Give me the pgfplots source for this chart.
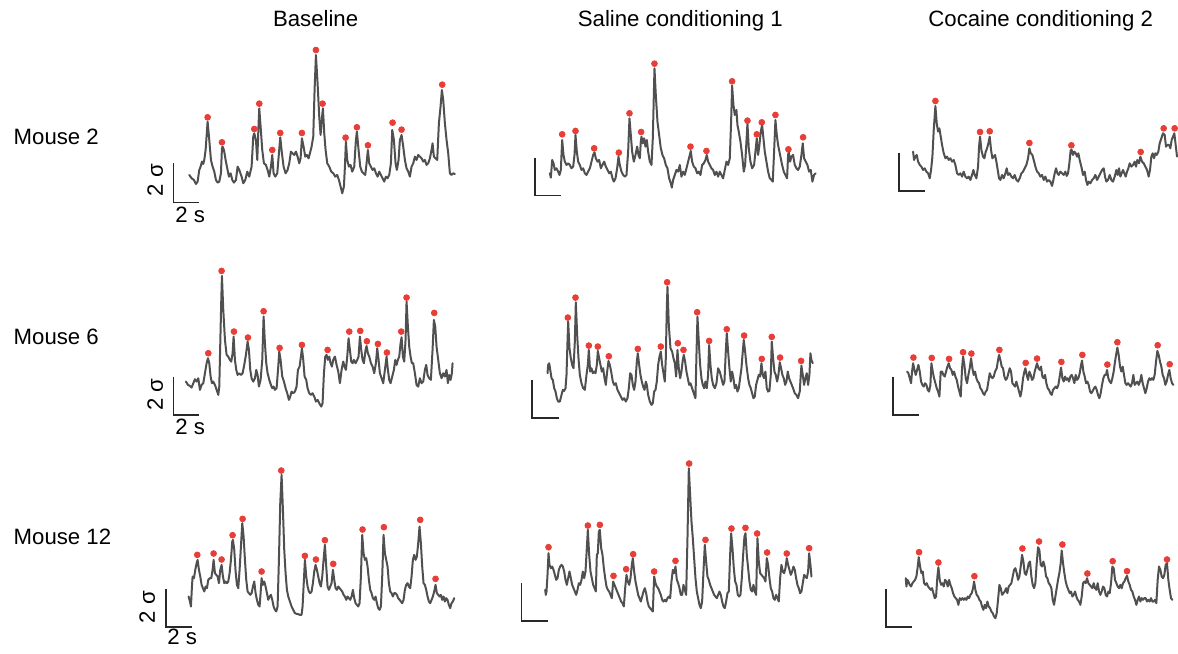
\documentclass[border=0pt]{standalone}
\usepackage{pgfplots}
\pgfplotsset{compat=1.18}
\usepackage{fontspec}
\setmainfont{Liberation Sans}
\definecolor{tracegray}{RGB}{80,80,80}
\definecolor{dotred}{RGB}{232,62,55}
\definecolor{bargray}{RGB}{40,40,40}
\pgfplotsset{
 panel/.style={scale only axis, hide axis, clip=false, y dir=reverse, xmin=0, ymin=0, anchor=north west},
 trace/.style={draw=tracegray, line width=1.0pt, line join=round, line cap=round, no markers},
 peaks/.style={only marks, mark=*, mark size=1.45pt, color=dotred, mark options={draw=none, fill=dotred}},
 sbar/.style={draw=bargray, line width=0.75pt, no markers},
}
\begin{document}
\begin{tikzpicture}
\path (0,0) rectangle (589pt,-327pt);
\fontsize{11.1}{13}\selectfont
% titles
\node[anchor=base, inner sep=0] at (157.85pt,-13.35pt) {Baseline};
\node[anchor=base, inner sep=0] at (340.25pt,-13.35pt) {Saline conditioning 1};
\node[anchor=base, inner sep=0] at (520.5pt,-13.35pt) {Cocaine conditioning 2};
\node[anchor=base west, inner sep=0] at (6.65pt,-72.5pt) {Mouse 2};
\node[anchor=base west, inner sep=0] at (6.65pt,-172.5pt) {Mouse 6};
\node[anchor=base west, inner sep=0] at (6.65pt,-272.2pt) {Mouse 12};
% scale labels
\node[anchor=base, rotate=90, inner sep=0] at (81.5pt,-90pt) {2 σ};
\node[anchor=base west, inner sep=0] at (87.5pt,-111.5pt) {2 s};
\node[anchor=base, rotate=90, inner sep=0] at (81.5pt,-197.5pt) {2 σ};
\node[anchor=base west, inner sep=0] at (87.5pt,-217.5pt) {2 s};
\node[anchor=base, rotate=90, inner sep=0] at (77.5pt,-303.75pt) {2 σ};
\node[anchor=base west, inner sep=0] at (83.5pt,-322.5pt) {2 s};

% ---------------- Row 1, Baseline ----------------
\begin{axis}[panel, at={(80pt,-20pt)}, width=152.5pt, height=92.5pt, xmax=915, ymax=555]
\addplot[trace] coordinates {
(88,405)(95,415)(102,420)(108,432)(113,425)(118,390)(122,380)(126,365)(130,372)(133,360)(137,330)(143,245)(148,300)(153,360)(158,380)(163,395)(168,420)(173,428)(178,425)(183,400)(186,325)(188,320)(192,330)(197,360)(202,385)(207,410)(212,400)(217,420)(222,428)(228,420)(233,380)(238,390)(245,410)(250,430)(256,420)(262,395)(268,410)(275,380)(280,290)(283,280)(288,300)(292,360)(296,250)(298,205)(302,260)(307,330)(312,370)(318,375)(323,390)(328,410)(333,380)(337,345)(341,400)(346,410)(352,400)(357,340)(361,292)(366,340)(371,380)(377,400)(383,390)(388,370)(393,335)(398,340)(403,345)(408,335)(413,350)(418,370)(422,355)(426,295)(431,320)(436,350)(441,345)(446,355)(450,340)(455,320)(460,290)(464,150)(468,45)(473,130)(478,230)(482,285)(486,235)(489,205)(493,280)(497,330)(502,370)(508,380)(514,395)(520,400)(526,410)(532,405)(537,420)(542,440)(547,460)(552,440)(555,380)(558,305)(562,360)(567,380)(572,375)(577,395)(583,380)(588,300)(591,275)(596,330)(601,380)(606,395)(611,400)(616,405)(620,370)(624,330)(628,370)(633,380)(638,390)(643,385)(648,400)(653,410)(658,395)(663,405)(668,415)(673,425)(678,410)(683,415)(688,405)(693,370)(697,270)(702,300)(707,370)(711,390)(716,360)(720,300)(725,285)(730,320)(735,360)(740,385)(745,395)(750,410)(755,380)(760,370)(765,350)(770,360)(775,345)(780,350)(785,355)(790,365)(795,360)(800,375)(805,370)(810,355)(815,330)(818,310)(822,350)(827,355)(832,360)(837,250)(842,200)(846,150)(850,180)(855,250)(860,300)(865,340)(870,400)(875,405)(880,400)(885,402)
};
\addplot[peaks] coordinates {(143,232)(186,307)(283,267)(298,191)(337,330)(361,279)(426,279)(468,30)(488,191)(557,293)(591,262)(624,316)(698,248)(725,269)(847,134)};
\addplot[sbar] coordinates {(40,370)(40,487)(118,487)};
\end{axis}

% ---------------- Row 1, Saline ----------------
\begin{axis}[panel, at={(262.5pt,-27.5pt)}, width=150pt, height=75pt, xmax=900, ymax=450]
\addplot[trace] coordinates {
(75,355)(78,368)(82,315)(86,325)(90,345)(95,340)(100,350)(104,360)(108,345)(112,255)(116,300)(120,320)(125,330)(130,325)(135,330)(140,340)(145,335)(149,300)(152,240)(156,290)(160,320)(165,330)(170,345)(175,340)(180,355)(185,360)(190,350)(195,340)(200,320)(205,300)(209,292)(213,310)(218,320)(223,315)(228,340)(233,330)(238,320)(243,335)(248,345)(253,355)(258,350)(263,370)(267,380)(272,370)(277,340)(281,305)(285,330)(290,350)(295,360)(300,365)(305,360)(310,290)(314,190)(318,240)(322,290)(327,320)(332,300)(337,275)(341,300)(345,310)(348,260)(350,245)(354,265)(358,250)(362,275)(366,255)(370,290)(375,320)(380,330)(384,250)(389,40)(393,120)(398,200)(403,240)(408,280)(413,300)(418,310)(423,330)(428,340)(433,370)(438,385)(441,398)(445,375)(450,360)(455,345)(460,350)(465,330)(470,365)(475,350)(480,360)(485,340)(490,320)(495,300)(498,288)(502,320)(507,335)(512,340)(517,355)(522,350)(527,360)(532,330)(537,325)(542,315)(546,300)(550,320)(555,330)(560,340)(565,345)(570,360)(575,350)(580,365)(585,350)(590,360)(595,370)(600,345)(605,320)(610,330)(615,310)(619,200)(622,92)(626,150)(630,180)(635,165)(638,210)(642,230)(647,260)(652,300)(657,350)(661,330)(665,260)(668,205)(672,280)(677,320)(682,340)(688,330)(692,290)(696,250)(700,300)(704,270)(708,230)(712,210)(716,250)(720,290)(725,320)(730,350)(735,370)(740,375)(744,380)(748,290)(752,195)(756,240)(760,270)(766,300)(772,330)(777,350)(782,360)(787,370)(790,300)(792,290)(796,320)(800,305)(805,300)(810,330)(815,340)(820,345)(825,335)(830,300)(834,265)(838,310)(843,320)(848,330)(853,350)(858,345)(863,380)(868,360)(873,355)
};
\addplot[peaks] coordinates {(112,238)(152,228)(208,280)(282,293)(314,175)(349,231)(389,26)(497,275)(545,288)(622,79)(668,197)(696,238)(711,202)(752,180)(791,283)(835,247)};
\addplot[sbar] coordinates {(30,308)(30,422)(108,422)};
\end{axis}

% ---------------- Row 1, Cocaine ----------------
\begin{axis}[panel, at={(445pt,-45pt)}, width=144pt, height=55pt, xmax=864, ymax=330]
\addplot[trace] coordinates {
(70,185)(73,210)(77,200)(81,195)(85,215)(90,225)(95,230)(100,240)(105,235)(110,245)(115,250)(120,265)(124,240)(128,200)(132,120)(137,48)(141,100)(145,125)(149,115)(153,140)(157,165)(162,190)(167,205)(172,200)(177,210)(182,205)(187,215)(192,210)(197,225)(202,250)(207,255)(212,250)(217,260)(222,245)(227,260)(232,265)(237,260)(242,270)(247,255)(251,240)(255,255)(260,265)(265,230)(268,170)(271,140)(275,180)(280,200)(284,205)(288,185)(292,175)(296,160)(300,140)(304,180)(308,205)(312,200)(316,195)(320,215)(324,240)(328,265)(332,270)(337,255)(342,265)(347,250)(351,235)(355,255)(360,250)(365,260)(370,265)(375,255)(380,270)(385,275)(390,265)(395,250)(400,245)(405,235)(410,225)(415,205)(419,175)(423,190)(428,195)(432,210)(437,230)(442,245)(447,250)(452,260)(457,255)(462,270)(467,260)(472,275)(477,270)(482,275)(487,288)(491,270)(495,250)(499,235)(503,250)(507,255)(512,245)(517,250)(522,255)(527,245)(531,258)(535,250)(539,220)(543,180)(546,180)(550,195)(554,185)(558,190)(562,200)(566,190)(570,210)(575,230)(580,255)(585,245)(589,270)(593,285)(597,275)(602,280)(607,270)(612,265)(617,255)(622,270)(627,260)(632,250)(637,240)(642,235)(646,260)(650,275)(655,270)(660,255)(665,270)(670,275)(675,260)(680,240)(684,255)(688,235)(692,260)(696,250)(700,240)(704,250)(708,260)(712,245)(716,235)(720,220)(725,230)(730,225)(735,215)(739,230)(743,210)(748,220)(752,200)(757,215)(762,220)(767,230)(772,240)(777,260)(781,240)(785,200)(789,190)(793,205)(797,190)(801,195)(806,185)(810,160)(815,145)(820,130)(825,135)(829,170)(833,165)(838,165)(842,175)(846,150)(850,140)(854,130)(858,165)(862,200)
};
\addplot[peaks] coordinates {(137,33)(271,126)(300,124)(419,159)(545,166)(753,186)(822,115)(855,115)};
\addplot[sbar] coordinates {(28,190)(28,303)(106,303)};
\end{axis}

% ---------------- Row 2, Baseline ----------------
\begin{axis}[panel, at={(80pt,-130pt)}, width=152.5pt, height=90pt, xmax=915, ymax=540]
\addplot[trace] coordinates {
(78,365)(84,375)(90,378)(95,383)(100,370)(105,358)(110,365)(115,355)(120,390)(125,375)(130,370)(135,340)(140,310)(144,295)(148,310)(152,350)(156,370)(160,365)(165,375)(170,390)(175,405)(178,380)(181,250)(184,120)(186,48)(190,150)(195,240)(200,285)(205,290)(210,300)(214,305)(218,280)(221,230)(225,300)(229,330)(233,345)(238,340)(243,345)(248,340)(253,315)(258,285)(263,245)(267,270)(271,330)(275,355)(280,365)(285,355)(289,330)(293,345)(297,380)(302,360)(307,300)(311,170)(315,250)(319,310)(323,340)(328,360)(333,375)(337,385)(341,380)(345,390)(350,385)(355,320)(358,275)(362,300)(367,350)(372,365)(377,385)(382,400)(387,420)(391,410)(395,395)(400,400)(405,395)(410,380)(414,330)(419,320)(423,290)(426,265)(430,300)(434,350)(439,360)(443,385)(448,400)(453,405)(458,400)(463,410)(468,425)(473,420)(478,430)(484,440)(488,430)(492,340)(496,290)(500,285)(504,300)(508,290)(512,310)(516,320)(520,300)(525,290)(530,315)(535,335)(540,370)(545,330)(550,305)(554,320)(558,330)(562,290)(566,235)(570,270)(574,305)(578,310)(582,300)(587,310)(592,300)(596,290)(600,230)(604,270)(608,300)(612,310)(617,270)(620,258)(624,280)(628,290)(633,310)(638,320)(643,340)(648,310)(652,265)(656,300)(660,340)(665,355)(670,370)(675,330)(680,290)(684,330)(688,360)(692,370)(697,350)(702,330)(706,300)(710,315)(714,300)(718,290)(722,250)(725,232)(729,290)(733,305)(737,240)(740,125)(744,200)(748,260)(752,290)(756,310)(760,310)(765,340)(770,375)(775,380)(780,355)(785,370)(790,365)(795,330)(799,315)(803,345)(808,355)(813,360)(818,270)(822,180)(826,200)(830,260)(835,300)(840,340)(845,355)(850,340)(855,350)(860,330)(864,370)(868,345)(872,360)(876,340)(878,310)
};
\addplot[peaks] coordinates {(145,280)(185,33)(222,215)(264,233)(311,154)(359,264)(426,255)(503,270)(568,215)(601,213)(621,244)(654,252)(681,278)(724,215)(740,113)(823,159)};
\addplot[sbar] coordinates {(40,350)(40,465)(118,465)};
\end{axis}

% ---------------- Row 2, Saline ----------------
\begin{axis}[panel, at={(262.5pt,-137.5pt)}, width=150pt, height=75pt, xmax=900, ymax=450]
\addplot[trace] coordinates {
(68,295)(70,270)(73,265)(77,290)(80,310)(84,315)(88,340)(92,350)(96,370)(100,380)(105,380)(110,360)(114,345)(118,348)(122,340)(125,300)(128,200)(130,140)(134,220)(138,250)(142,270)(146,280)(150,200)(153,82)(157,180)(161,250)(165,300)(170,325)(175,340)(180,345)(185,300)(189,270)(192,225)(196,290)(200,280)(204,295)(208,290)(212,295)(216,270)(219,228)(223,250)(227,270)(231,290)(235,280)(239,310)(243,330)(247,290)(251,258)(255,270)(259,290)(264,320)(268,330)(273,325)(278,345)(283,355)(288,365)(293,375)(298,370)(303,380)(308,370)(312,340)(316,295)(320,300)(324,330)(328,345)(332,320)(336,260)(339,235)(343,270)(347,300)(351,320)(355,335)(359,345)(363,320)(366,330)(370,360)(375,380)(380,390)(384,385)(388,350)(392,345)(396,320)(400,270)(404,245)(408,230)(412,270)(416,295)(420,320)(423,250)(426,100)(428,35)(432,150)(437,220)(442,230)(446,250)(450,265)(454,305)(458,225)(462,280)(466,310)(470,290)(474,255)(477,240)(481,260)(485,290)(489,310)(493,330)(497,325)(502,340)(507,355)(512,370)(515,240)(518,125)(522,200)(526,270)(530,310)(534,330)(538,340)(542,320)(546,340)(550,300)(553,210)(557,270)(561,310)(565,330)(570,340)(575,325)(580,280)(585,290)(590,310)(595,330)(599,320)(603,230)(606,175)(610,230)(614,280)(618,320)(622,290)(626,310)(630,340)(634,330)(638,350)(642,340)(646,310)(650,280)(654,230)(657,195)(661,230)(665,270)(670,310)(674,330)(678,340)(682,355)(686,370)(690,365)(694,330)(698,315)(702,300)(706,305)(710,265)(714,300)(718,310)(722,290)(726,340)(730,350)(734,348)(738,300)(741,200)(745,250)(749,290)(753,300)(757,320)(761,300)(765,262)(769,280)(773,300)(777,310)(781,330)(785,320)(789,290)(793,310)(797,320)(801,330)(805,340)(810,355)(815,360)(820,370)(825,350)(828,300)(830,272)(834,300)(838,330)(842,310)(846,295)(850,330)(854,300)(857,235)(860,255)(864,265)
};
\addplot[peaks] coordinates {(129,128)(152,68)(192,212)(219,215)(252,244)(339,222)(408,215)(427,22)(459,205)(476,225)(517,112)(553,198)(606,163)(658,182)(711,252)(741,186)(766,248)(829,258)};
\addplot[sbar] coordinates {(22,315)(22,430)(102,430)};
\end{axis}

% ---------------- Row 2, Cocaine ----------------
\begin{axis}[panel, at={(442.5pt,-167.5pt)}, width=146.5pt, height=45pt, xmax=879, ymax=270]
\addplot[trace] coordinates {
(67,110)(71,115)(75,130)(79,145)(82,110)(85,85)(89,105)(93,120)(97,105)(101,90)(105,110)(109,140)(113,150)(117,155)(121,145)(125,150)(129,165)(133,170)(137,150)(140,85)(144,110)(148,130)(152,145)(156,160)(160,170)(164,185)(168,110)(172,110)(176,120)(180,125)(184,110)(188,95)(192,85)(196,100)(200,105)(204,120)(208,110)(212,125)(216,135)(220,155)(224,170)(228,185)(232,100)(235,65)(239,90)(243,130)(247,145)(251,120)(255,100)(259,70)(263,100)(267,120)(271,110)(275,130)(279,140)(283,145)(287,160)(291,165)(295,175)(299,180)(303,170)(307,165)(311,140)(315,115)(319,125)(323,130)(327,125)(331,110)(336,100)(340,75)(343,60)(347,75)(351,95)(355,100)(359,125)(363,135)(367,130)(371,115)(375,100)(379,110)(383,145)(387,150)(391,155)(395,140)(399,155)(403,170)(407,185)(411,165)(415,130)(419,110)(422,100)(426,120)(430,135)(434,110)(438,120)(442,135)(446,130)(450,110)(454,95)(457,85)(461,100)(465,105)(469,95)(473,125)(477,130)(481,120)(485,145)(489,160)(493,165)(497,175)(501,180)(505,165)(509,160)(513,155)(517,160)(521,150)(525,125)(529,98)(533,130)(537,140)(541,125)(545,135)(549,130)(553,140)(557,125)(561,120)(565,130)(569,145)(573,120)(577,135)(581,130)(585,115)(589,90)(592,77)(596,110)(600,125)(604,145)(608,140)(612,150)(616,170)(620,175)(624,168)(628,160)(632,155)(636,165)(640,180)(644,190)(648,175)(652,150)(656,130)(660,120)(664,120)(667,105)(671,130)(675,140)(679,145)(683,130)(687,110)(691,80)(695,55)(698,38)(702,60)(706,95)(710,110)(714,95)(718,120)(722,145)(726,150)(730,145)(734,150)(738,155)(742,145)(746,120)(750,150)(754,145)(758,140)(762,150)(766,140)(770,120)(774,145)(778,160)(782,175)(786,160)(790,140)(794,130)(798,135)(802,130)(806,135)(810,120)(814,80)(818,48)(822,60)(826,80)(830,95)(834,120)(838,130)(842,150)(846,140)(850,120)(854,105)(858,130)(862,145)(866,150)
};
\addplot[peaks] coordinates {(86,68)(141,69)(193,72)(235,52)(260,56)(344,45)(423,84)(457,71)(530,81)(593,60)(668,89)(698,22)(819,31)(855,88)};
\addplot[sbar] coordinates {(25,125)(25,240)(103,240)};
\end{axis}

% ---------------- Row 3, Baseline ----------------
\begin{axis}[panel, at={(65pt,-230pt)}, width=167.5pt, height=92.5pt, xmax=1005, ymax=555]
\addplot[trace] coordinates {
(176,410)(180,425)(183,440)(186,380)(188,350)(192,355)(196,330)(200,310)(203,300)(207,330)(211,350)(215,375)(219,385)(223,395)(227,380)(231,385)(235,360)(240,355)(244,355)(248,330)(251,300)(255,340)(259,345)(263,350)(267,370)(271,330)(275,315)(279,350)(283,370)(287,365)(291,370)(295,365)(299,340)(303,300)(307,245)(309,240)(313,270)(317,335)(321,375)(325,385)(329,330)(333,260)(337,190)(341,230)(345,300)(349,360)(353,395)(357,400)(361,405)(365,400)(369,380)(373,365)(377,400)(381,420)(385,435)(389,440)(392,400)(395,355)(399,375)(403,365)(407,380)(411,400)(415,420)(419,410)(423,405)(427,420)(431,440)(435,450)(439,455)(443,440)(447,300)(451,130)(455,45)(459,150)(463,270)(467,340)(471,390)(475,410)(480,425)(485,440)(490,450)(495,460)(500,462)(505,463)(510,465)(515,465)(518,440)(521,380)(525,300)(529,350)(533,380)(537,395)(541,400)(545,395)(549,370)(553,335)(557,315)(561,330)(565,350)(569,370)(573,380)(577,350)(581,300)(585,255)(589,320)(593,380)(597,390)(601,380)(605,370)(609,330)(613,360)(617,385)(621,390)(625,380)(629,385)(633,390)(637,395)(641,405)(645,410)(649,420)(653,410)(657,415)(661,420)(665,410)(669,390)(673,415)(677,430)(681,435)(685,440)(689,430)(693,350)(697,225)(701,280)(705,300)(709,295)(713,320)(717,360)(721,390)(725,400)(729,415)(733,420)(737,410)(741,430)(745,445)(749,450)(753,440)(757,350)(761,225)(765,280)(769,300)(773,320)(777,370)(781,395)(785,400)(789,410)(793,400)(797,400)(801,405)(805,415)(809,420)(813,425)(817,430)(821,420)(825,390)(829,375)(833,370)(837,380)(841,385)(845,350)(849,300)(853,285)(857,300)(861,290)(865,250)(869,200)(873,250)(877,320)(881,370)(885,375)(889,390)(893,410)(897,425)(901,430)(905,420)(909,410)(913,395)(917,375)(921,400)(925,405)(929,410)(933,405)(937,420)(941,410)(945,425)(949,415)(953,420)(957,435)(961,445)(965,430)(969,425)(973,415)
};
\addplot[peaks] coordinates {(202,285)(251,281)(275,299)(308,226)(338,177)(395,335)(454,32)(525,288)(558,299)(585,241)(610,312)(698,209)(762,202)(871,180)(917,357)};
\addplot[sbar] coordinates {(108,388)(108,502)(185,502)};
\end{axis}

% ---------------- Row 3, Saline ----------------
\begin{axis}[panel, at={(255pt,-227.5pt)}, width=157.5pt, height=87.5pt, xmax=945, ymax=525]
\addplot[trace] coordinates {
(106,405)(108,420)(110,410)(113,360)(116,295)(119,330)(123,340)(127,335)(131,345)(135,360)(139,375)(143,370)(147,345)(151,335)(155,330)(159,335)(163,350)(167,375)(171,390)(175,370)(179,350)(183,370)(187,390)(191,400)(195,410)(199,420)(203,405)(207,385)(211,390)(215,375)(219,350)(223,370)(227,350)(231,280)(234,225)(238,300)(242,350)(246,370)(250,390)(254,400)(258,410)(261,300)(264,295)(267,230)(270,225)(274,280)(278,300)(282,340)(286,370)(290,395)(294,405)(298,410)(302,420)(306,430)(310,380)(314,390)(318,400)(322,410)(326,420)(330,430)(334,440)(338,445)(342,455)(346,400)(350,360)(354,380)(358,390)(362,370)(366,330)(369,310)(373,350)(377,380)(381,400)(385,420)(389,430)(393,440)(397,425)(401,410)(405,400)(409,415)(413,440)(417,455)(421,460)(425,465)(429,470)(433,365)(437,385)(441,395)(445,400)(449,410)(453,420)(457,435)(461,440)(465,435)(469,440)(473,430)(477,425)(481,430)(485,380)(489,345)(493,355)(497,335)(501,375)(505,385)(509,400)(513,420)(517,420)(521,390)(525,405)(529,420)(533,250)(537,40)(541,120)(545,200)(549,250)(553,310)(557,370)(561,410)(565,430)(569,450)(573,460)(577,440)(581,350)(585,270)(589,320)(593,365)(597,375)(601,390)(605,400)(609,410)(613,420)(617,425)(621,430)(625,420)(629,410)(633,420)(637,440)(641,455)(645,460)(649,440)(653,415)(657,410)(661,300)(664,235)(668,280)(672,340)(676,380)(680,390)(684,420)(688,425)(692,420)(696,370)(700,300)(704,245)(707,235)(711,300)(715,340)(719,380)(723,405)(727,410)(731,390)(735,410)(739,420)(743,250)(747,320)(751,355)(755,360)(759,365)(763,370)(767,380)(771,310)(775,330)(779,370)(783,400)(787,410)(791,430)(795,435)(799,420)(803,430)(807,440)(811,370)(815,330)(819,350)(823,355)(827,340)(831,310)(835,330)(839,345)(843,360)(847,350)(851,335)(855,345)(859,370)(863,390)(867,400)(871,415)(875,410)(879,385)(883,360)(887,365)(891,370)(895,350)(898,295)(902,330)(905,365)
};
\addplot[peaks] coordinates {(116,277)(234,212)(270,210)(311,363)(349,343)(370,298)(433,350)(497,318)(538,26)(587,255)(665,221)(707,219)(742,236)(772,293)(831,296)(898,280)};
\addplot[sbar] coordinates {(35,383)(35,498)(113,498)};
\end{axis}

% ---------------- Row 3, Cocaine ----------------
\begin{axis}[panel, at={(440pt,-265pt)}, width=149pt, height=50pt, xmax=894, ymax=300]
\addplot[trace] coordinates {
(78,145)(80,170)(83,150)(86,155)(90,165)(94,170)(98,160)(102,155)(106,150)(110,140)(114,110)(117,82)(121,110)(125,130)(129,125)(133,160)(137,165)(141,160)(145,170)(149,175)(153,180)(157,175)(161,190)(165,205)(169,200)(173,140)(176,112)(180,150)(184,165)(188,160)(192,170)(196,150)(200,155)(204,170)(208,150)(212,165)(216,175)(220,190)(224,200)(228,205)(232,210)(236,225)(240,205)(244,210)(248,205)(252,210)(256,205)(260,210)(264,200)(268,205)(272,195)(276,190)(280,175)(283,155)(287,180)(291,195)(295,200)(299,210)(303,215)(307,230)(311,240)(315,225)(319,235)(323,215)(327,230)(331,235)(335,245)(339,250)(343,260)(347,265)(351,250)(355,210)(359,165)(363,175)(367,195)(371,190)(375,185)(379,175)(383,190)(387,170)(391,165)(395,160)(399,140)(403,120)(407,115)(411,130)(415,150)(419,140)(423,110)(427,75)(431,95)(435,130)(439,135)(443,120)(447,100)(451,95)(455,140)(459,165)(463,175)(467,160)(471,100)(475,52)(479,60)(483,105)(487,110)(491,95)(495,110)(499,140)(503,145)(507,160)(511,165)(515,175)(519,210)(523,225)(527,200)(531,175)(535,150)(539,130)(543,100)(546,62)(550,100)(554,130)(558,155)(562,170)(566,180)(570,190)(574,185)(578,200)(582,195)(586,185)(590,200)(594,210)(598,215)(602,225)(606,200)(610,160)(614,155)(618,160)(622,145)(626,160)(630,165)(634,170)(638,175)(642,160)(646,175)(650,180)(654,160)(658,185)(662,195)(666,185)(670,170)(674,175)(678,195)(682,200)(686,185)(690,190)(694,160)(698,110)(702,115)(706,150)(710,160)(714,170)(718,175)(722,165)(726,175)(730,160)(734,155)(738,145)(742,138)(746,155)(750,165)(754,180)(758,185)(762,200)(766,210)(770,225)(774,210)(778,200)(782,215)(786,205)(790,210)(794,205)(798,205)(802,215)(806,210)(810,215)(814,205)(818,215)(822,215)(826,210)(830,220)(834,150)(838,110)(842,120)(846,140)(850,145)(854,135)(858,105)(862,100)(866,150)(870,180)(874,205)(878,210)
};
\addplot[peaks] coordinates {(118,67)(176,98)(284,139)(428,56)(478,35)(548,44)(623,131)(699,94)(742,124)(862,89)};
\addplot[sbar] coordinates {(18,177)(18,292)(97,292)};
\end{axis}
\end{tikzpicture}
\end{document}
